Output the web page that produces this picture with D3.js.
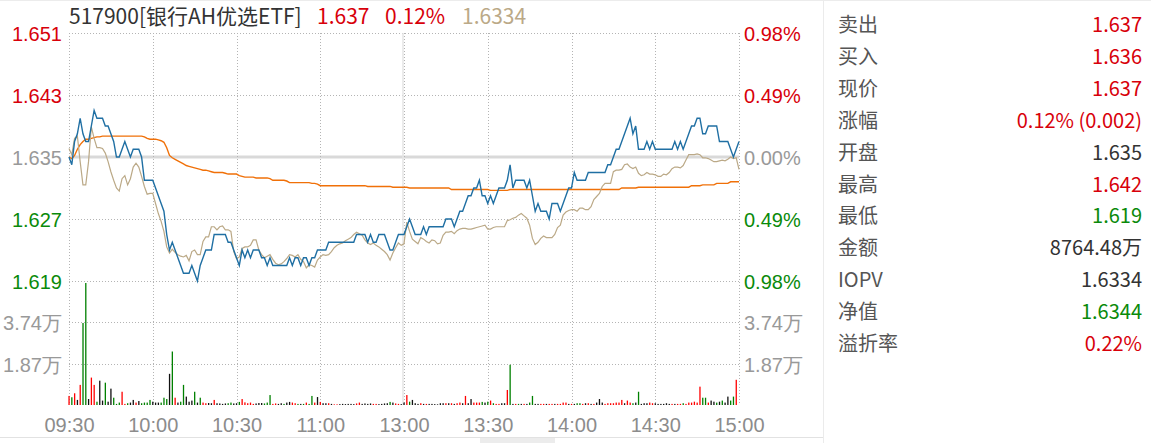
<!DOCTYPE html>
<html><head><meta charset="utf-8">
<script src="https://cdn.jsdelivr.net/npm/d3@7"></script>
<style>
html,body{margin:0;padding:0;background:#fff;}
svg{display:block;font-family:"Noto Sans CJK SC","Noto Sans",sans-serif;}
</style></head>
<body>
<svg id="c" width="1151" height="443"></svg>
<script>
// ---------------- DATA ----------------
const preClose = 1.635;
const timeTicks = [0,30,60,90,120,150,180,210,240];
const timeLabels = ["09:30","10:00","10:30","11:00","13:00","13:30","14:00","14:30","15:00"];
const priceTicks = [1.651,1.643,1.635,1.627,1.619];
const priceTickLabels = ["1.651","1.643","1.635","1.627","1.619"];
const pctTickLabels = ["0.98%","0.49%","0.00%","0.49%","0.98%"];
const volTicks = [3.74,1.87];
const volTickLabels = ["3.74万","1.87万"];
const volMax = 5.61;

// minute price (blue)
const price = [
1.635,1.634,1.637,1.638,1.640,1.638,1.637,1.637,1.639,1.641,
1.640,1.640,1.640,1.639,1.639,1.638,1.637,1.635,1.635,1.636,
1.637,1.636,1.635,1.636,1.636,1.636,1.635,1.632,1.632,1.632,
1.632,1.631,1.630,1.629,1.628,1.625,1.623,1.624,1.623,1.622,
1.621,1.620,1.620,1.620,1.621,1.620,1.619,1.621,1.622,1.623,
1.623,1.623,1.625,1.625,1.625,1.625,1.625,1.624,1.624,1.623,
1.622,1.621,1.623,1.622,1.623,1.622,1.623,1.623,1.623,1.622,
1.622,1.621,1.622,1.621,1.621,1.621,1.621,1.621,1.621,1.622,
1.621,1.622,1.622,1.621,1.622,1.622,1.621,1.622,1.622,1.623,
1.623,1.623,1.623,1.624,1.624,1.624,1.624,1.624,1.624,1.624,
1.624,1.624,1.624,1.625,1.625,1.625,1.625,1.624,1.625,1.624,
1.624,1.625,1.625,1.625,1.624,1.623,1.623,1.624,1.625,1.625,
1.625,1.626,1.627,1.626,1.625,1.625,1.625,1.626,1.625,1.626,
1.626,1.626,1.626,1.626,1.626,1.627,1.627,1.627,1.626,1.627,
1.628,1.628,1.629,1.630,1.630,1.631,1.631,1.632,1.630,1.630,
1.629,1.630,1.629,1.630,1.631,1.631,1.631,1.632,1.634,1.631,
1.632,1.632,1.632,1.632,1.631,1.632,1.630,1.628,1.629,1.628,
1.628,1.628,1.627,1.629,1.629,1.629,1.628,1.629,1.630,1.631,
1.631,1.633,1.632,1.632,1.632,1.632,1.633,1.633,1.633,1.633,
1.633,1.633,1.633,1.634,1.634,1.635,1.636,1.636,1.637,1.638,
1.639,1.640,1.638,1.639,1.636,1.636,1.636,1.637,1.636,1.637,
1.636,1.636,1.636,1.636,1.636,1.636,1.636,1.637,1.636,1.637,
1.636,1.637,1.638,1.639,1.639,1.640,1.640,1.638,1.638,1.639,
1.639,1.639,1.639,1.637,1.637,1.637,1.637,1.636,1.635,1.636,
1.637];

// IOPV (tan)
const iopv = [
1.6361,1.6353,1.6374,1.6377,1.6344,1.6314,1.6314,1.6344,1.6389,1.6374,
1.6362,1.6362,1.6361,1.6355,1.6344,1.6331,1.6320,1.6310,1.6306,1.6322,
1.6326,1.6314,1.6322,1.6337,1.6342,1.6337,1.6325,1.6312,1.6302,1.6303,
1.6303,1.6290,1.6277,1.6267,1.6254,1.6234,1.6226,1.6231,1.6227,1.6224,
1.6222,1.6221,1.6223,1.6216,1.6228,1.6230,1.6224,1.6224,1.6241,1.6247,
1.6247,1.6260,1.6260,1.6256,1.6260,1.6261,1.6256,1.6256,1.6254,1.6228,
1.6219,1.6221,1.6232,1.6234,1.6234,1.6236,1.6243,1.6243,1.6230,1.6224,
1.6220,1.6222,1.6224,1.6218,1.6213,1.6211,1.6212,1.6215,1.6219,1.6224,
1.6223,1.6221,1.6224,1.6218,1.6215,1.6207,1.6211,1.6210,1.6208,1.6217,
1.6221,1.6224,1.6223,1.6224,1.6228,1.6233,1.6236,1.6238,1.6239,1.6242,
1.6244,1.6246,1.6250,1.6253,1.6251,1.6249,1.6243,1.6239,1.6237,1.6239,
1.6236,1.6234,1.6231,1.6228,1.6224,1.6217,1.6226,1.6233,1.6239,1.6236,
1.6238,1.6266,1.6254,1.6244,1.6241,1.6238,1.6246,1.6244,1.6241,1.6239,
1.6243,1.6242,1.6238,1.6239,1.6249,1.6253,1.6253,1.6254,1.6251,1.6255,
1.6257,1.6258,1.6258,1.6257,1.6257,1.6258,1.6259,1.6260,1.6261,1.6262,
1.6257,1.6257,1.6259,1.6260,1.6260,1.6260,1.6260,1.6268,1.6269,1.6271,
1.6272,1.6275,1.6277,1.6274,1.6271,1.6262,1.6245,1.6237,1.6240,1.6245,
1.6248,1.6246,1.6246,1.6246,1.6250,1.6259,1.6262,1.6275,1.6279,1.6281,
1.6282,1.6282,1.6280,1.6284,1.6284,1.6282,1.6282,1.6286,1.6295,1.6299,
1.6303,1.6312,1.6316,1.6316,1.6316,1.6331,1.6333,1.6333,1.6334,1.6340,
1.6341,1.6337,1.6335,1.6337,1.6329,1.6326,1.6327,1.6330,1.6328,1.6328,
1.6327,1.6325,1.6325,1.6328,1.6327,1.6330,1.6335,1.6337,1.6337,1.6336,
1.6339,1.6346,1.6353,1.6353,1.6353,1.6354,1.6353,1.6349,1.6349,1.6348,
1.6346,1.6344,1.6344,1.6345,1.6346,1.6345,1.6347,1.6350,1.6348,1.6349,
1.6334];

// average price (orange)
const avgPrice = [
1.6350,1.6348,1.6352,1.6360,1.6366,1.6370,1.6373,1.6373,1.6374,1.6375,
1.6376,1.6376,1.6377,1.6377,1.6377,1.6377,1.6377,1.6377,1.6377,1.6377,
1.6377,1.6377,1.6377,1.6377,1.6377,1.6377,1.6377,1.6376,1.6374,1.6373,
1.6373,1.6373,1.6372,1.6371,1.6369,1.6362,1.6352,1.6349,1.6347,1.6345,
1.6343,1.6341,1.6339,1.6338,1.6337,1.6336,1.6335,1.6334,1.6333,1.6333,
1.6332,1.6331,1.6330,1.6330,1.6330,1.6330,1.6329,1.6328,1.6328,1.6328,
1.6328,1.6326,1.6325,1.6324,1.6324,1.6324,1.6324,1.6323,1.6323,1.6323,
1.6323,1.6323,1.6322,1.6320,1.6320,1.6320,1.6320,1.6320,1.6319,1.6317,
1.6317,1.6317,1.6317,1.6317,1.6317,1.6317,1.6317,1.6316,1.6316,1.6315,
1.6313,1.6313,1.6313,1.6313,1.6313,1.6313,1.6313,1.6313,1.6313,1.6313,
1.6313,1.6313,1.6313,1.6313,1.6313,1.6313,1.6313,1.6312,1.6312,1.6312,
1.6312,1.6312,1.6312,1.6312,1.6312,1.6312,1.6311,1.6311,1.6311,1.6311,
1.6311,1.6311,1.6310,1.6310,1.6310,1.6310,1.6310,1.6310,1.6310,1.6310,
1.6310,1.6310,1.6310,1.6310,1.6310,1.6310,1.6310,1.6308,1.6308,1.6308,
1.6308,1.6308,1.6308,1.6308,1.6308,1.6308,1.6308,1.6308,1.6308,1.6308,
1.6308,1.6307,1.6307,1.6307,1.6307,1.6307,1.6307,1.6307,1.6308,1.6308,
1.6308,1.6308,1.6308,1.6308,1.6308,1.6308,1.6308,1.6308,1.6308,1.6308,
1.6308,1.6308,1.6308,1.6308,1.6308,1.6308,1.6308,1.6308,1.6308,1.6308,
1.6308,1.6308,1.6308,1.6308,1.6308,1.6308,1.6308,1.6308,1.6308,1.6308,
1.6308,1.6308,1.6308,1.6308,1.6308,1.6308,1.6308,1.6308,1.6310,1.6310,
1.6310,1.6310,1.6310,1.6310,1.6311,1.6311,1.6311,1.6311,1.6311,1.6311,
1.6311,1.6311,1.6311,1.6311,1.6311,1.6311,1.6311,1.6311,1.6311,1.6311,
1.6311,1.6311,1.6311,1.6313,1.6313,1.6313,1.6313,1.6314,1.6314,1.6314,
1.6314,1.6314,1.6316,1.6316,1.6316,1.6316,1.6316,1.6318,1.6318,1.6318,
1.6318];

// volume per minute (万)
const volume = [
0.41,0.35,0.53,0.23,0.91,3.71,5.52,0.27,1.24,0.91,
0.15,1.10,0.20,1.01,0.15,0.74,0.33,0.05,0.11,0.60,
0.05,0.08,0.11,0.23,0.11,0.18,0.08,0.11,0.11,0.23,
0.15,0.11,0.11,0.11,0.33,0.27,1.41,2.42,0.33,0.11,
0.15,0.91,0.38,0.15,0.20,0.60,0.11,0.33,0.11,0.08,
0.09,0.08,0.23,0.08,0.07,0.05,0.07,0.08,0.11,0.07,
0.08,0.14,0.27,0.12,0.08,0.11,0.05,0.07,0.09,0.09,
0.07,0.11,0.45,0.05,0.07,0.05,0.08,0.05,0.11,0.14,
0.11,0.08,0.05,0.05,0.05,0.11,0.05,0.41,0.11,0.36,
0.14,0.08,0.08,0.08,0.05,0.03,0.03,0.04,0.05,0.04,
0.05,0.05,0.04,0.07,0.11,0.05,0.07,0.05,0.07,0.05,
0.05,0.04,0.05,0.07,0.08,0.14,0.11,0.07,0.05,0.04,
0.11,0.45,0.15,0.23,0.08,0.05,0.08,0.05,0.05,0.05,
0.05,0.04,0.03,0.08,0.08,0.08,0.08,0.08,0.05,0.08,
0.11,0.08,0.41,0.08,0.27,0.11,0.11,0.11,0.14,0.11,
0.15,0.20,0.08,0.05,0.05,0.08,0.08,0.68,1.82,0.05,
0.05,0.05,0.05,0.05,0.05,0.11,0.41,0.05,0.05,0.05,
0.05,0.05,0.05,0.05,0.05,0.05,0.05,0.11,0.11,0.05,
0.05,0.05,0.08,0.08,0.05,0.08,0.08,0.05,0.05,0.11,
0.27,0.11,0.05,0.08,0.08,0.08,0.11,0.11,0.23,0.08,
0.20,0.11,0.08,0.11,0.60,0.05,0.08,0.08,0.11,0.08,
0.08,0.05,0.05,0.05,0.08,0.05,0.05,0.05,0.05,0.05,
0.08,0.05,0.11,0.11,0.15,0.11,0.83,0.33,0.33,0.11,
0.20,0.15,0.11,0.15,0.20,0.11,0.38,0.20,0.38,1.14,
0];
// bar direction per minute: r = up, g = down, k = flat
const volumeDir = (
"rgrkrggkrr"+"gkkgkkgggr"+"rgkkrkgggg"+"kkkgggkgrk"+"ggkkkgkgrr"+
"kkrkkkkggk"+"kgrrrrrkkk"+"gggrrkkgkk"+"rrgkgrggrk"+"rkkrkrrkkk"+
"kkkrrkkkkr"+"rkkkkgkrrk"+"krgkkkrkrk"+"kkkkkrkrkr"+"rkrkkrrrgk"+
"grgrrkkrgk"+"rgkrkggkkr"+"rkrrkrrrrk"+"rkggrkrkrk"+"kkrrrrrrrk"+
"rrgkgkkkrr"+"kkkkkkrkrr"+"grrrrrrggr"+"kkgkgkkggr"+"k").split("");

const panelLabels = ["卖出","买入","现价","涨幅","开盘","最高","最低","金额","IOPV","净值","溢折率"];
const panelValues = ["1.637","1.636","1.637","0.12% (0.002)","1.635","1.642","1.619","8764.48万","1.6334","1.6344","0.22%"];
const panelTone = ["up","up","up","up","flat","up","down","flat","flat","down","up"];

const headerName = "517900[银行AH优选ETF]";
const headerPrice = "1.637";
const headerPct = "0.12%";
const headerIopv = "1.6334";

// ---------------- STYLE ----------------
const C = {
  up:"#d8000a", down:"#0a8a0a", flat:"#333333", axisGrey:"#999999",
  blue:"#1f6fa3", tan:"#bba987", orange:"#f07008", grid:"#b4b4b4",
  barUp:"#ff0000", barDown:"#008000", barFlat:"#111111", label:"#555555"
};
const L = {left:69, right:739, top:33, priceBottom:281, volBottom:405};

const svg = d3.select("#c");
const x = d3.scaleLinear().domain([0,240]).range([L.left, L.right]);
const y = d3.scaleLinear().domain([1.619,1.651]).range([L.priceBottom, L.top]);
const yv = d3.scaleLinear().domain([0, volMax]).range([L.volBottom, L.priceBottom]);
const toneColor = v => v > preClose + 1e-9 ? C.up : (v < preClose - 1e-9 ? C.down : C.axisGrey);

// frame decorations
svg.append("line").attr("x1",0).attr("x2",1151).attr("y1",0.5).attr("y2",0.5).attr("stroke","#ececec");
svg.append("line").attr("x1",823.5).attr("x2",823.5).attr("y1",0).attr("y2",443).attr("stroke","#ebebeb");
svg.append("line").attr("x1",0).attr("x2",823).attr("y1",437.5).attr("y2",437.5).attr("stroke","#e2e2e2");
svg.append("rect").attr("x",480).attr("y",438).attr("width",75).attr("height",5).attr("fill","#ececec");

// grid
const g = svg.append("g");
// horizontal dotted lines (price)
g.selectAll("line.hp").data(priceTicks.filter(v => v !== preClose)).join("line")
  .attr("x1",L.left).attr("x2",L.right)
  .attr("y1",d=>Math.round(y(d))+0.5).attr("y2",d=>Math.round(y(d))+0.5)
  .attr("stroke",C.grid).attr("stroke-dasharray","1,2");
// horizontal dotted lines (volume)
g.selectAll("line.hv").data(volTicks).join("line")
  .attr("x1",L.left).attr("x2",L.right)
  .attr("y1",d=>Math.round(yv(d))+0.5).attr("y2",d=>Math.round(yv(d))+0.5)
  .attr("stroke",C.grid).attr("stroke-dasharray","1,2");
// previous close line
g.append("line").attr("x1",L.left).attr("x2",L.right)
  .attr("y1",y(preClose)).attr("y2",y(preClose))
  .attr("stroke","#d9d9d9").attr("stroke-width",3);
// vertical dotted lines
g.selectAll("line.vt").data(timeTicks).join("line")
  .attr("x1",d=>Math.round(x(d))+0.5).attr("x2",d=>Math.round(x(d))+0.5)
  .attr("y1",L.top).attr("y2",L.volBottom)
  .attr("stroke",C.grid).attr("stroke-dasharray","1,2");
// midday break extra light line
g.append("line").attr("x1",Math.round(x(120))-1).attr("x2",Math.round(x(120))-1)
  .attr("y1",L.top).attr("y2",L.volBottom).attr("stroke","#e4e4e4").attr("stroke-width",1.5);

// volume bars
svg.append("g").selectAll("rect").data(volume).join("rect")
  .attr("x",(d,i)=>x(i)-0.6).attr("width",1.3)
  .attr("y",d=>yv(d)).attr("height",d=>Math.max(0,L.volBottom - yv(d)))
  .attr("fill",(d,i)=> volumeDir[i]==="r" ? C.barUp : (volumeDir[i]==="g" ? C.barDown : C.barFlat));

// lines
const line = d3.line().x((d,i)=>x(i)).y(d=>y(d));
svg.append("path").datum(avgPrice).attr("d",line).attr("fill","none").attr("stroke",C.orange).attr("stroke-width",1.4);
svg.append("path").datum(iopv).attr("d",line).attr("fill","none").attr("stroke",C.tan).attr("stroke-width",1.2);
svg.append("path").datum(price).attr("d",line).attr("fill","none").attr("stroke",C.blue).attr("stroke-width",1.4);

// axes
const fs = 20;
const axL = svg.append("g").attr("transform",`translate(${L.left},0)`)
  .call(d3.axisLeft(y).tickValues(priceTicks).tickSize(0).tickPadding(7)
    .tickFormat((d,i)=>priceTickLabels[i]));
axL.select(".domain").remove();
axL.selectAll("text").attr("font-size",fs).attr("font-family","inherit").attr("dy","0.38em")
  .attr("fill",d=>toneColor(d));

const axLV = svg.append("g").attr("transform",`translate(${L.left},0)`)
  .call(d3.axisLeft(yv).tickValues(volTicks).tickSize(0).tickPadding(7)
    .tickFormat((d,i)=>volTickLabels[i]));
axLV.select(".domain").remove();
axLV.selectAll("text").attr("font-size",fs).attr("font-family","inherit").attr("dy","0.38em").attr("fill",C.axisGrey);

const axR = svg.append("g").attr("transform",`translate(${L.right},0)`)
  .call(d3.axisRight(y).tickValues(priceTicks).tickSize(0).tickPadding(5)
    .tickFormat((d,i)=>pctTickLabels[i]));
axR.select(".domain").remove();
axR.selectAll("text").attr("font-size",fs).attr("font-family","inherit").attr("dy","0.38em")
  .attr("fill",d=>toneColor(d));

const axRV = svg.append("g").attr("transform",`translate(${L.right},0)`)
  .call(d3.axisRight(yv).tickValues(volTicks).tickSize(0).tickPadding(5)
    .tickFormat((d,i)=>volTickLabels[i]));
axRV.select(".domain").remove();
axRV.selectAll("text").attr("font-size",fs).attr("font-family","inherit").attr("dy","0.38em").attr("fill",C.axisGrey);

const axB = svg.append("g").attr("transform",`translate(0,${L.volBottom})`)
  .call(d3.axisBottom(x).tickValues(timeTicks).tickSize(0).tickPadding(13)
    .tickFormat((d,i)=>timeLabels[i]));
axB.select(".domain").remove();
axB.selectAll("text").attr("font-size",fs).attr("font-family","inherit").attr("fill","#8c8c8c");

// header
const hdr = svg.append("text").attr("x",69).attr("y",23.5).attr("font-size",21);
hdr.append("tspan").text(headerName).attr("fill","#333");
hdr.append("tspan").text(headerPrice).attr("x",317).attr("fill",C.up);
hdr.append("tspan").text(headerPct).attr("x",385).attr("fill",C.up);
hdr.append("tspan").text(headerIopv).attr("x",462).attr("fill",C.tan);

// right panel
const toneMap = {up:C.up, down:C.down, flat:C.flat};
const rowY = d3.scaleLinear().domain([0,10]).range([32,351]);
const pg = svg.append("g");
pg.selectAll("text.lab").data(panelLabels).join("text")
  .attr("x",838).attr("y",(d,i)=>rowY(i)).attr("font-size",20).attr("fill",C.label).text(d=>d);
pg.selectAll("text.val").data(panelValues).join("text")
  .attr("x",1142).attr("y",(d,i)=>rowY(i)).attr("font-size",20).attr("text-anchor","end")
  .attr("fill",(d,i)=>toneMap[panelTone[i]]).text(d=>d);
</script>
</body></html>
